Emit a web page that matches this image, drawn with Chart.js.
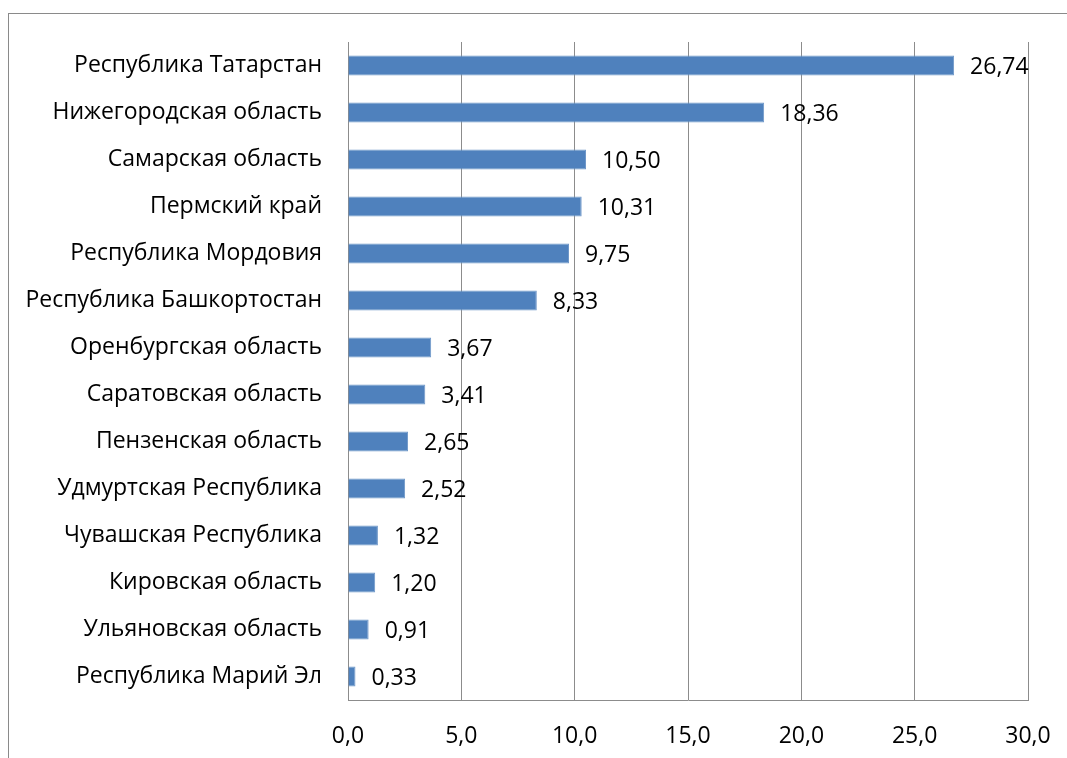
<!DOCTYPE html>
<html>
<head>
<meta charset="utf-8">
<script src="https://cdn.jsdelivr.net/npm/chart.js@4"></script>
<style>
  html, body { margin: 0; padding: 0; background: #fff; }
  #wrap { width: 1067px; height: 758px; position: relative; }
</style>
</head>
<body>
<div id="wrap"><canvas id="chart"></canvas></div>
<script>
const regions = [
  "Республика Татарстан",
  "Нижегородская область",
  "Самарская область",
  "Пермский край",
  "Республика Мордовия",
  "Республика Башкортостан",
  "Оренбургская область",
  "Саратовская область",
  "Пензенская область",
  "Удмуртская Республика",
  "Чувашская Республика",
  "Кировская область",
  "Ульяновская область",
  "Республика Марий Эл"
];
const values = [26.74, 18.36, 10.50, 10.31, 9.75, 8.33, 3.67, 3.41, 2.65, 2.52, 1.32, 1.20, 0.91, 0.33];
const xTicks = [0, 5, 10, 15, 20, 25, 30];

const FONT = "'Open Sans', sans-serif";
const SIZE = 23;
const fmt = (v, d) => v.toFixed(d).replace(".", ",");

// thin frame around the chart
const framePlugin = {
  id: "frame",
  beforeDraw(chart) {
    const ctx = chart.ctx;
    ctx.save();
    ctx.strokeStyle = "#8a8a8a";
    ctx.lineWidth = 1;
    ctx.strokeRect(8.5, 13.5, 1200, 900);
    ctx.restore();
  }
};

// value labels to the right of each bar
const valueLabels = {
  id: "valueLabels",
  afterDatasetsDraw(chart) {
    const ctx = chart.ctx;
    const meta = chart.getDatasetMeta(0);
    ctx.save();
    ctx.font = SIZE + "px " + FONT;
    ctx.fillStyle = "#000";
    ctx.textAlign = "left";
    ctx.textBaseline = "middle";
    meta.data.forEach((bar, i) => {
      ctx.fillText(fmt(values[i], 2), bar.x + 16, bar.y + 2);
    });
    ctx.restore();
  }
};

new Chart(document.getElementById("chart"), {
  type: "bar",
  data: {
    labels: regions,
    datasets: [{
      data: values,
      backgroundColor: "#4f81bd",
      borderColor: "#6f97c8",
      borderWidth: 1,
      barPercentage: 0.43,
      categoryPercentage: 1
    }]
  },
  options: {
    indexAxis: "y",
    responsive: true,
    maintainAspectRatio: false,
    animation: false,
    layout: { padding: { top: 42, right: 39, left: 0, bottom: 0 } },
    plugins: { legend: { display: false }, tooltip: { enabled: false } },
    scales: {
      x: {
        min: 0,
        max: 30,
        afterBuildTicks: (scale) => { scale.ticks = xTicks.map(v => ({ value: v })); },
        afterFit: (scale) => {
          scale.height = 58;
          scale.paddingLeft = 0;
          scale.paddingRight = 0;
        },
        grid: { color: "#8c8c8c", lineWidth: 1, drawTicks: false },
        border: { color: "#8c8c8c" },
        ticks: {
          padding: 23,
          color: "#000",
          font: { family: FONT, size: SIZE },
          callback: (v) => fmt(v, 1)
        }
      },
      y: {
        afterFit: (scale) => { scale.width = 348; },
        grid: { display: false, drawTicks: false },
        border: { color: "#8c8c8c" },
        ticks: {
          padding: 26,
          color: "#000",
          font: { family: FONT, size: SIZE }
        }
      }
    }
  },
  plugins: [framePlugin, valueLabels]
});
</script>
</body>
</html>
